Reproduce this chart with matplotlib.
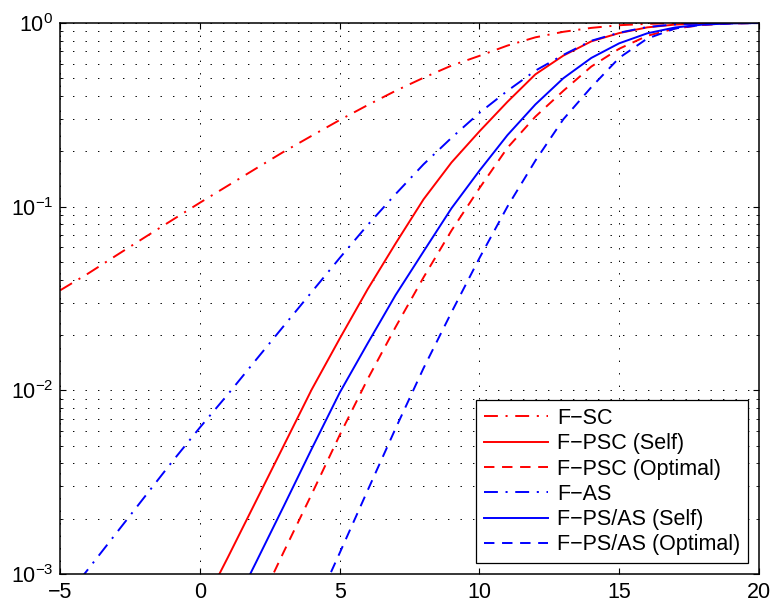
import matplotlib
matplotlib.use('Agg')
import matplotlib.pyplot as plt
import numpy as np
from matplotlib.ticker import LogLocator, NullFormatter, FixedLocator

plt.rcParams['font.family'] = ['Liberation Sans', 'DejaVu Sans']
plt.rcParams['mathtext.fontset'] = 'custom'
plt.rcParams['mathtext.rm'] = 'Liberation Sans'
plt.rcParams['mathtext.it'] = 'Liberation Sans:italic'
plt.rcParams['lines.scale_dashes'] = False

snr_db = list(range(-5, 21))

f_sc = [0.035, 0.0432, 0.0541, 0.0676, 0.0843, 0.105, 0.130, 0.161, 0.199, 0.243,
        0.296, 0.357, 0.427, 0.503, 0.586, 0.662, 0.753, 0.835, 0.895, 0.940,
        0.972, 0.989, 0.996, 0.999, 1.0, 1.0]
f_psc_self = [None] * 5 + [6.2e-4, 1.23e-3, 2.48e-3, 5.0e-3, 1.01e-2, 1.91e-2, 0.0355,
              0.063, 0.1096, 0.174, 0.257, 0.372, 0.525, 0.664, 0.794, 0.881, 0.946,
              0.980, 0.993, 0.998, 0.9995]
f_psc_opt = [None] * 7 + [6.3e-4, 1.32e-3, 2.72e-3, 5.7e-3, 0.0115, 0.0221, 0.0412,
             0.0741, 0.126, 0.209, 0.309, 0.427, 0.579, 0.724, 0.851, 0.933, 0.975,
             0.993, 0.999]
f_as = [6.8e-4, 1.06e-3, 1.66e-3, 2.6e-3, 4.07e-3, 6.27e-3, 9.5e-3, 0.0146, 0.0224,
        0.0343, 0.0525, 0.0794, 0.117, 0.170, 0.237, 0.324, 0.427, 0.55, 0.67, 0.80,
        0.885, 0.95, 0.983, 0.995, 0.999, 1.0]
f_psas_self = [None] * 6 + [5.7e-4, 1.15e-3, 2.34e-3, 4.8e-3, 9.7e-3, 0.018, 0.033,
               0.057, 0.098, 0.157, 0.245, 0.36, 0.50, 0.645, 0.775, 0.878, 0.945,
               0.98, 0.994, 0.999]
f_psas_opt = [None] * 9 + [6.0e-4, 1.30e-3, 2.85e-3, 6.2e-3, 0.0132, 0.0266, 0.0525,
              0.100, 0.178, 0.299, 0.447, 0.646, 0.822, 0.933, 0.98, 0.995, 0.999]

labels = ['F\u2212SC', 'F\u2212PSC (Self)', 'F\u2212PSC (Optimal)',
          'F\u2212AS', 'F\u2212PS/AS (Self)', 'F\u2212PS/AS (Optimal)']

dashdot = (0, (10, 5.5, 1.5, 5.5))
dashed = (0, (7.5, 5.5))

fig = plt.figure(figsize=(7.7, 6.04), dpi=100)
ax = fig.add_axes([0.078, 0.0497, 0.9078, 0.9123])

def series(vals):
    x = np.array([s for s, v in zip(snr_db, vals) if v is not None], float)
    y = np.array([v for v in vals if v is not None], float)
    return x, y

lw = 1.4
for vals, color, ls, lab in [(f_sc, 'r', dashdot, labels[0]),
                             (f_psc_self, 'r', '-', labels[1]),
                             (f_psc_opt, 'r', dashed, labels[2]),
                             (f_as, 'b', dashdot, labels[3]),
                             (f_psas_self, 'b', '-', labels[4]),
                             (f_psas_opt, 'b', dashed, labels[5])]:
    x, y = series(vals)
    ax.semilogy(x, y, color=color, linestyle=ls, linewidth=lw, label=lab)

ax.set_xlim(-5, 20)
ax.set_ylim(1e-3, 1)
ax.xaxis.set_major_locator(FixedLocator([-5, 0, 5, 10, 15, 20]))
ax.set_xticklabels(['\u22125', '0', '5', '10', '15', '20'])
ax.yaxis.set_major_locator(LogLocator(base=10, numticks=10))
ax.yaxis.set_minor_locator(LogLocator(base=10, subs=np.arange(2, 10), numticks=20))
ax.yaxis.set_minor_formatter(NullFormatter())

grid_kw = dict(color='k', linestyle=(0, (1, 8)), linewidth=0.7)
ax.grid(True, which='major', axis='both', **grid_kw)
ax.grid(True, which='minor', axis='y', **grid_kw)

ax.tick_params(which='both', direction='in', top=True, right=True, labelsize=15.5)
ax.tick_params(which='major', length=4, width=0.8)
ax.tick_params(axis='x', which='major', pad=6)
ax.tick_params(axis='y', which='major', pad=5)
ax.tick_params(which='minor', length=2.5, width=0.6)
for sp in ax.spines.values():
    sp.set_linewidth(1.1)

leg = ax.legend(loc='lower right', bbox_to_anchor=(0.984, 0.02), fontsize=15.5,
                handlelength=3.0, handletextpad=0.4, labelspacing=0.2,
                borderpad=0.35, borderaxespad=0, fancybox=False, framealpha=1)
leg.get_frame().set_edgecolor('k')
leg.get_frame().set_linewidth(0.9)

fig.savefig('out.png', dpi=100)
